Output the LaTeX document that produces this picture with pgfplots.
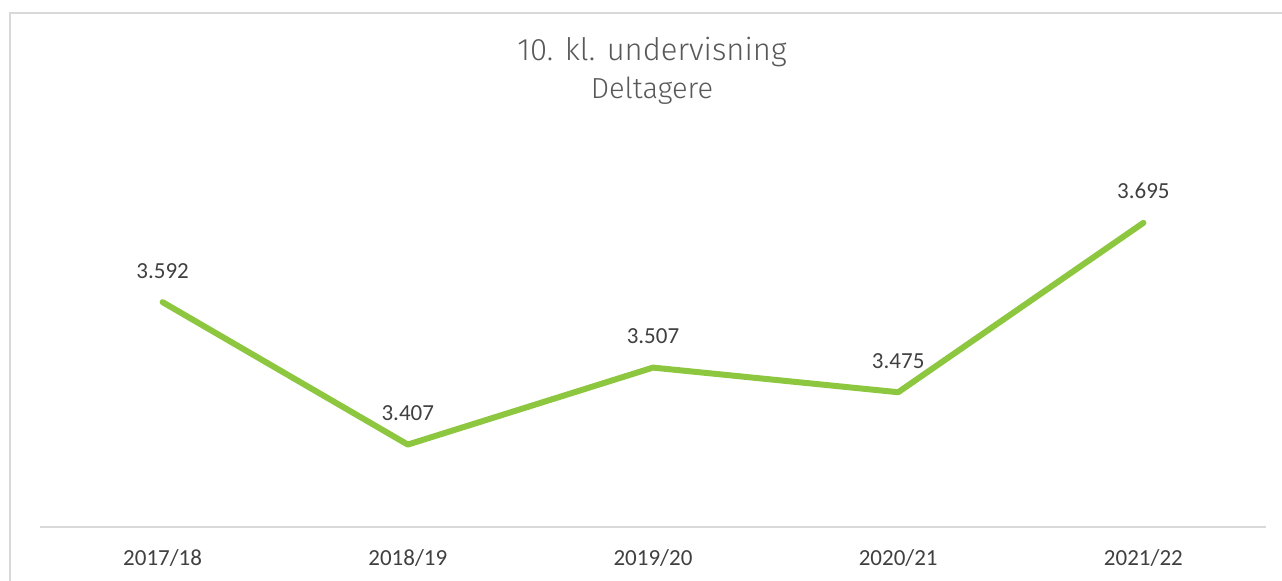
\documentclass[border=0pt]{standalone}
\usepackage{fontspec}
\setmainfont{Carlito}
\newfontfamily\titlefont{Fira Sans Light}
\usepackage{pgfplots}
\pgfplotsset{compat=1.18}
\definecolor{linegreen}{HTML}{8DC63F}
\definecolor{labelgray}{HTML}{404040}
\definecolor{titlegray}{HTML}{595959}
\definecolor{framegray}{HTML}{D9D9D9}
\begin{document}
\begin{tikzpicture}
\useasboundingbox (0,0) rectangle (641pt,290.5pt);
\draw[framegray, line width=1pt] (5pt,0) -- (5pt,284pt) -- (641pt,284pt);
\node[font=\titlefont\fontsize{15.5}{18}\selectfont, text=titlegray, anchor=base] at (326pt,260pt) {10. kl. undervisning};
\node[font=\titlefont\fontsize{14.5}{17}\selectfont, text=titlegray, anchor=base] at (326pt,241pt) {Deltagere};

\begin{axis}[
  at={(20pt,27pt)}, anchor=south west,
  scale only axis, width=613pt, height=192.5pt,
  xmin=-0.5, xmax=4.5,
  ymin=3300, ymax=3800,
  axis y line=none,
  axis x line*=bottom,
  x axis line style={framegray, line width=1pt},
  xtick={0,1,2,3,4},
  xticklabels={2017/18,2018/19,2019/20,2020/21,2021/22},
  major tick length=0pt,
  xticklabel style={font=\fontsize{11.5}{14}\selectfont, text=labelgray, anchor=base, yshift=-19.5pt},
  clip=false,
  nodes near coords,
  point meta=y,
  nodes near coords style={font=\fontsize{11.5}{14}\selectfont, text=labelgray, anchor=base, yshift=12pt,
    /pgf/number format/.cd, 1000 sep={.}, assume math mode=true},
]
\addplot[linegreen, line width=3pt, line cap=round, line join=round, mark=none]
coordinates {
  (0,3592)
  (1,3407)
  (2,3507)
  (3,3475)
  (4,3695)
};
\end{axis}
\end{tikzpicture}
\end{document}
